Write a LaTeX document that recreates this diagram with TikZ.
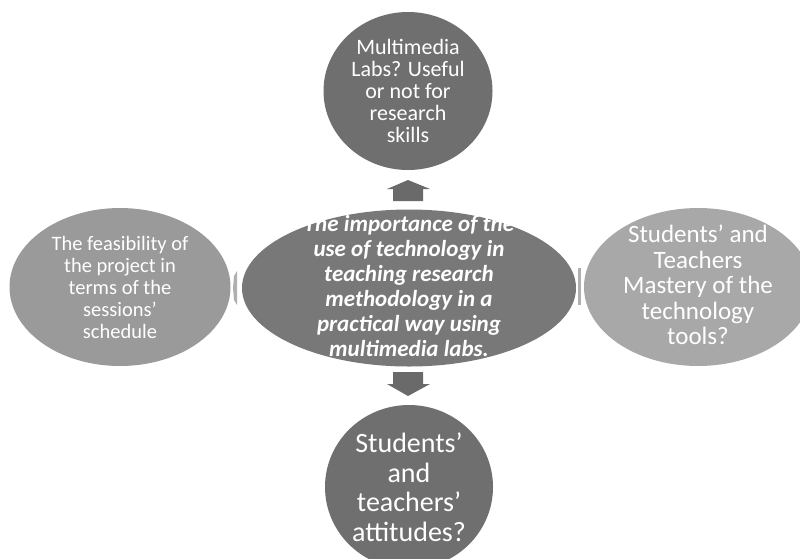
\documentclass[tikz,border=0pt]{standalone}
\usepackage{fontspec}
\setmainfont{Carlito}
\usetikzlibrary{shapes.geometric}
\definecolor{dk}{HTML}{6F6F6F}
\definecolor{ctr}{HTML}{787878}
\definecolor{lft}{HTML}{9A9A9A}
\definecolor{rgt}{HTML}{A8A8A8}
\definecolor{arr}{HTML}{6A6A6A}
\definecolor{side}{HTML}{B0B0B0}
\tikzset{
  blob/.style={ellipse, inner sep=0pt, draw=none},
  label/.style={text=white, align=center, inner sep=0pt},
}
\begin{document}
\begin{tikzpicture}[x=1pt,y=-1pt]
\useasboundingbox (0,0) rectangle (800,558);
\node[blob, fill=dk, minimum width=169pt, minimum height=158pt] (top) at (408,91) {};
\node[label, font=\fontsize{22}{22}\selectfont] (toptxt) at (top) {Multimedia\\Labs? Useful\\or not for\\research\\skills};
\node[blob, fill=dk, minimum width=168pt, minimum height=164pt] (bot) at (409,487) {};
\node[label, font=\fontsize{28}{29.5}\selectfont] (bottxt) at (bot) {Students’\\and\\teachers’\\attitudes?};
\node[blob, fill=lft, minimum width=221pt, minimum height=158pt] (left) at (120,287) {};
\node[label, font=\fontsize{20.5}{22}\selectfont] (lefttxt) at (left) {The feasibility of\\the project in\\terms of the\\sessions’\\schedule};
\node[blob, fill=rgt, minimum width=228pt, minimum height=158pt] (right) at (698,287) {};
\node[label, font=\fontsize{25}{25.5}\selectfont] (righttxt) at ([yshift=2pt]right) {Students’ and\\Teachers\\Mastery of the\\technology\\tools?};
\node[blob, fill=ctr, minimum width=334pt, minimum height=157pt] (ctr) at (409,288) {};
\node[label, font=\fontsize{23}{25}\selectfont\bfseries\itshape] (ctrtxt) at ([yshift=2pt]ctr) {The importance of the\\use of technology in\\teaching research\\methodology in a\\practical way using\\multimedia labs.};
% block arrows
\fill[arr] (408,180) -- (430,189) -- (423,189) -- (423,201) -- (393,201) -- (393,189) -- (387,189) -- cycle;
\fill[arr] (393,372) -- (423,372) -- (423,384) -- (430,384) -- (408,396) -- (387,384) -- (393,384) -- cycle;
\fill[side] (237,271) -- (237,305) -- (234,300) -- (233,288) -- (234,276) -- cycle;
\fill[side] (578,268) -- (581,268) -- (581,305) -- (578,305) -- cycle;
\end{tikzpicture}
\end{document}
